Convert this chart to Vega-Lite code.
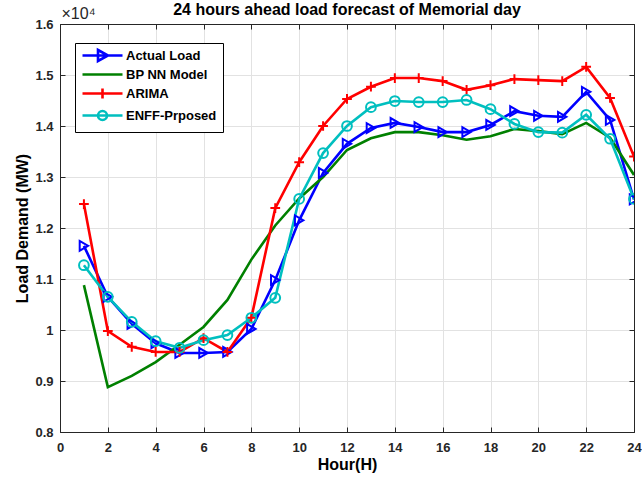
{
  "$schema": "https://vega.github.io/schema/vega-lite/v6.json",
  "width": 574,
  "height": 408,
  "autosize": {"type": "none"},
  "padding": {"left": 60, "top": 24, "right": 8, "bottom": 50},
  "background": "white",
  "title": {
    "text": "24 hours ahead load forecast of Memorial day",
    "font": "Liberation Sans",
    "fontSize": 16,
    "fontWeight": "bold",
    "color": "black",
    "anchor": "middle",
    "frame": "group",
    "baseline": "alphabetic",
    "offset": -13,
    "dy": 13
  },
  "config": {
    "view": {"stroke": "#262626", "strokeWidth": 1},
    "axis": {
      "labelFont": "Liberation Sans",
      "labelFontSize": 13,
      "labelFontWeight": "bold",
      "labelColor": "#262626",
      "titleFont": "Liberation Sans",
      "titleFontSize": 16,
      "titleFontWeight": "bold",
      "titleColor": "#000000",
      "domainColor": "#262626",
      "tickColor": "#262626",
      "gridColor": "#e2e2e2",
      "gridWidth": 1
    },
    "legend": {
      "labelFont": "Liberation Sans",
      "labelFontSize": 13,
      "labelFontWeight": "bold",
      "labelColor": "#000000"
    }
  },
  "data": {
    "values": [
      {"hour": 1, "Actual Load": 11650, "BP NN Model": 10880, "ARIMA": 12470, "ENFF-Prposed": 11270},
      {"hour": 2, "Actual Load": 10650, "BP NN Model": 8880, "ARIMA": 9980, "ENFF-Prposed": 10650},
      {"hour": 3, "Actual Load": 10120, "BP NN Model": 9100, "ARIMA": 9670, "ENFF-Prposed": 10160},
      {"hour": 4, "Actual Load": 9740, "BP NN Model": 9370, "ARIMA": 9570, "ENFF-Prposed": 9780},
      {"hour": 5, "Actual Load": 9550, "BP NN Model": 9710, "ARIMA": 9570, "ENFF-Prposed": 9650},
      {"hour": 6, "Actual Load": 9550, "BP NN Model": 10060, "ARIMA": 9840, "ENFF-Prposed": 9800},
      {"hour": 7, "Actual Load": 9570, "BP NN Model": 10590, "ARIMA": 9570, "ENFF-Prposed": 9900},
      {"hour": 8, "Actual Load": 10020, "BP NN Model": 11380, "ARIMA": 10240, "ENFF-Prposed": 10240},
      {"hour": 9, "Actual Load": 10980, "BP NN Model": 12050, "ARIMA": 12390, "ENFF-Prposed": 10630},
      {"hour": 10, "Actual Load": 12150, "BP NN Model": 12580, "ARIMA": 13290, "ENFF-Prposed": 12570},
      {"hour": 11, "Actual Load": 13080, "BP NN Model": 13000, "ARIMA": 14000, "ENFF-Prposed": 13470},
      {"hour": 12, "Actual Load": 13650, "BP NN Model": 13530, "ARIMA": 14530, "ENFF-Prposed": 14000},
      {"hour": 13, "Actual Load": 13960, "BP NN Model": 13760, "ARIMA": 14770, "ENFF-Prposed": 14370},
      {"hour": 14, "Actual Load": 14060, "BP NN Model": 13880, "ARIMA": 14940, "ENFF-Prposed": 14490},
      {"hour": 15, "Actual Load": 13980, "BP NN Model": 13880, "ARIMA": 14940, "ENFF-Prposed": 14470},
      {"hour": 16, "Actual Load": 13880, "BP NN Model": 13820, "ARIMA": 14880, "ENFF-Prposed": 14470},
      {"hour": 17, "Actual Load": 13880, "BP NN Model": 13730, "ARIMA": 14710, "ENFF-Prposed": 14510},
      {"hour": 18, "Actual Load": 14020, "BP NN Model": 13800, "ARIMA": 14800, "ENFF-Prposed": 14330},
      {"hour": 19, "Actual Load": 14290, "BP NN Model": 13940, "ARIMA": 14920, "ENFF-Prposed": 14040},
      {"hour": 20, "Actual Load": 14200, "BP NN Model": 13900, "ARIMA": 14900, "ENFF-Prposed": 13880},
      {"hour": 21, "Actual Load": 14180, "BP NN Model": 13840, "ARIMA": 14880, "ENFF-Prposed": 13870},
      {"hour": 22, "Actual Load": 14670, "BP NN Model": 14060, "ARIMA": 15160, "ENFF-Prposed": 14220},
      {"hour": 23, "Actual Load": 14120, "BP NN Model": 13770, "ARIMA": 14550, "ENFF-Prposed": 13750},
      {"hour": 24, "Actual Load": 12560, "BP NN Model": 13040, "ARIMA": 13400, "ENFF-Prposed": 12570}
    ]
  },
  "transform": [
    {"fold": ["Actual Load", "BP NN Model", "ARIMA", "ENFF-Prposed"], "as": ["series", "load"]}
  ],
  "layer": [
    {
      "mark": {"type": "line", "strokeWidth": 2.6, "clip": true},
      "encoding": {
        "x": {
          "field": "hour", "type": "quantitative",
          "scale": {"domain": [0, 24], "nice": false, "zero": false},
          "axis": {
            "title": "Hour(H)",
            "values": [0, 2, 4, 6, 8, 10, 12, 14, 16, 18, 20, 22, 24],
            "grid": true,
            "tickSize": -5,
            "labelPadding": 14,
            "titlePadding": 2,
            "labelFlush": false
          }
        },
        "y": {
          "field": "load", "type": "quantitative",
          "scale": {"domain": [8000, 16000], "nice": false, "zero": false},
          "axis": {
            "title": "Load Demand (MW)",
            "values": [8000, 9000, 10000, 11000, 12000, 13000, 14000, 15000, 16000],
            "labelExpr": "format(datum.value / 10000, '~g')",
            "grid": true,
            "tickSize": -5,
            "labelPadding": 12,
            "titlePadding": 4,
            "labelFlush": false
          }
        },
        "color": {
          "field": "series", "type": "nominal",
          "scale": {
            "domain": ["Actual Load", "BP NN Model", "ARIMA", "ENFF-Prposed"],
            "range": ["#0000ff", "#008000", "#ff0000", "#00bfbf"]
          },
          "legend": {
            "title": null,
            "orient": "none",
            "legendX": 15,
            "legendY": 19,
            "padding": 6,
            "strokeColor": "#000000",
            "fillColor": "#ffffff",
            "symbolType": "stroke",
            "symbolSize": 100,
            "symbolStrokeWidth": 2.6,
            "symbolOffset": 15,
            "labelOffset": 17,
            "rowPadding": 1,
            "encode": {
              "symbols": {
                "update": {
                  "fill": {"value": "transparent"},
                  "shape": {"signal": "datum.value === 'Actual Load' ? 'M-4,0H4M-0.9,-1.1L1.1,0L-0.9,1.1Z' : datum.value === 'ARIMA' ? 'M-4,0H4M0,-1V1' : datum.value === 'ENFF-Prposed' ? 'M-4,0H4M0.9,0A0.9,0.9 0 1,1 -0.9,0A0.9,0.9 0 1,1 0.9,0' : 'M-4,0H4'"}
                }
              }
            }
          }
        }
      }
    },
    {
      "transform": [{"filter": "datum.series !== 'BP NN Model'"}],
      "mark": {"type": "point", "filled": false, "strokeWidth": 2, "size": 95, "opacity": 1, "clip": true},
      "encoding": {
        "x": {
          "field": "hour", "type": "quantitative",
          "axis": {
            "orient": "top", "title": null, "labels": false, "grid": false,
            "values": [0, 2, 4, 6, 8, 10, 12, 14, 16, 18, 20, 22, 24],
            "tickSize": -5
          }
        },
        "y": {
          "field": "load", "type": "quantitative",
          "axis": {
            "orient": "right", "labels": false, "grid": false,
            "values": [8000, 9000, 10000, 11000, 12000, 13000, 14000, 15000, 16000],
            "tickSize": -5,
            "title": "×10⁴",
            "titleAngle": 0,
            "titleAlign": "left",
            "titleBaseline": "alphabetic",
            "titleX": -573,
            "titleY": -6,
            "titleFontSize": 16,
            "titleFontWeight": "normal",
            "titleColor": "#262626"
          }
        },
        "color": {
          "field": "series", "type": "nominal",
          "scale": {
            "domain": ["Actual Load", "BP NN Model", "ARIMA", "ENFF-Prposed"],
            "range": ["#0000ff", "#008000", "#ff0000", "#00bfbf"]
          },
          "legend": null
        },
        "shape": {
          "field": "series", "type": "nominal",
          "scale": {
            "domain": ["Actual Load", "ARIMA", "ENFF-Prposed"],
            "range": ["triangle-right", "M-1,0H1M0,-1V1", "circle"]
          },
          "legend": null
        }
      }
    }
  ],
  "resolve": {"axis": {"x": "independent", "y": "independent"}}
}
